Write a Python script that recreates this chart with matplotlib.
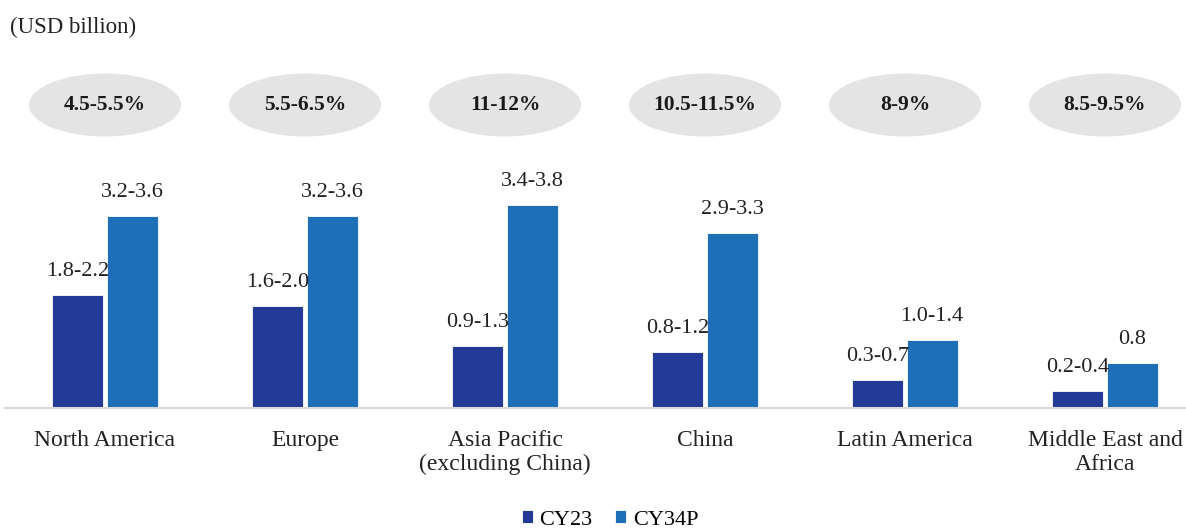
import numpy as np
import matplotlib.pyplot as plt
from matplotlib.patches import Ellipse

# data (bar heights = midpoint of each range)
regions = ["North America", "Europe", "Asia Pacific\n(excluding China)", "China",
           "Latin America", "Middle East and\nAfrica"]
cy23 = [2.0, 1.8, 1.1, 1.0, 0.5, 0.3]
cy34p = [3.4, 3.4, 3.6, 3.1, 1.2, 0.8]
cy23_labels = ["1.8-2.2", "1.6-2.0", "0.9-1.3", "0.8-1.2", "0.3-0.7", "0.2-0.4"]
cy34p_labels = ["3.2-3.6", "3.2-3.6", "3.4-3.8", "2.9-3.3", "1.0-1.4", "0.8"]
cagr = ["4.5-5.5%", "5.5-6.5%", "11-12%", "10.5-11.5%", "8-9%", "8.5-9.5%"]

plt.rcParams['font.family'] = ['Liberation Serif', 'DejaVu Serif']

c23 = '#233A96'
c34 = '#1F6FB8'

W, H = 1186, 532
fig = plt.figure(figsize=(W / 100, H / 100), dpi=100)
base = 408
ax = fig.add_axes([5 / W, 1 - base / H, 1 - 5 / W, base / H])

x = np.arange(len(regions))
bw = 0.255
b1 = ax.bar(x - bw / 2 - 0.008, cy23, bw, color=c23, edgecolor='white', linewidth=0.6, label='CY23')
b2 = ax.bar(x + bw / 2 + 0.008, cy34p, bw, color=c34, edgecolor='white', linewidth=0.6, label='CY34P')

for bars, labs in ((b1, cy23_labels), (b2, cy34p_labels)):
    for r, t in zip(bars, labs):
        ax.annotate(t, (r.get_x() + r.get_width() / 2, r.get_height()),
                    xytext=(0, 10), textcoords='offset points',
                    ha='center', va='bottom', fontsize=16, color='#222222')

ppu = 56.5  # pixels per unit on the y axis
ax.set_xlim(-0.5, 5.405)
ax.set_ylim(0, base / ppu)

# CAGR ellipses
ey = (base - 105) / ppu
for xi, t in zip(x, cagr):
    ax.add_patch(Ellipse((xi, ey), 0.76, 63 / ppu, facecolor='#E4E4E4', edgecolor='none'))
    ax.text(xi, ey, t, ha='center', va='center', fontsize=15.5, fontweight='bold', color='#1a1a1a')

for s in ['top', 'right', 'left']:
    ax.spines[s].set_visible(False)
ax.spines['bottom'].set_color('#D9D9D9')
ax.spines['bottom'].set_linewidth(1.5)
ax.set_yticks([])
ax.set_xticks(x)
ax.set_xticklabels(regions, fontsize=17, color='#222222', linespacing=1.15)
ax.tick_params(axis='x', length=0, pad=16)

fig.text(10 / W, 1 - 27 / H, "(USD billion)", fontsize=16.5, va='center', ha='left', color='#222222')

fig.legend(handles=[b1, b2], loc='center', bbox_to_anchor=(610 / W, 1 - 520 / H), ncol=2,
           frameon=False, fontsize=16, handlelength=0.5, handleheight=0.5,
           handletextpad=0.3, columnspacing=1.0, borderaxespad=0)

fig.savefig('out.png', dpi=100)
